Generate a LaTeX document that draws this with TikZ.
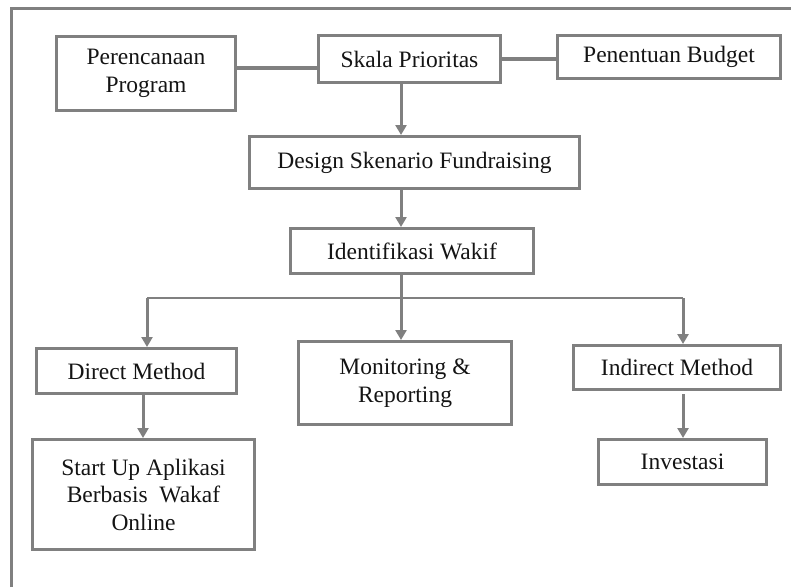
\documentclass[tikz,border=0pt]{standalone}
\usepackage{fontspec}
\setmainfont{Liberation Serif}
\usetikzlibrary{arrows.meta,calc}
\definecolor{lg}{RGB}{128,128,128}
\definecolor{tx}{RGB}{20,20,20}
\begin{document}
\begin{tikzpicture}[x=1pt,y=-1pt,
  box/.style={draw=lg,line width=3pt,rectangle,inner sep=0pt,align=center,text=tx,
    font=\fontsize{23.5}{27.5}\selectfont},
  conn/.style={draw=lg,line width=3pt},
  arr/.style={conn,-{Triangle[width=11pt,length=10pt]}},
  thin/.style={draw=lg,line width=1.5pt}]
\useasboundingbox (0,0) rectangle (791,587);
% outer frame (top and left)
\draw[conn] (11,587) -- (11,8) -- (791,8);
% boxes
\node[box,minimum width=179pt,minimum height=74pt] (perenc) at (146,73.5) {Perencanaan\\Program};
\node[box,minimum width=182pt,minimum height=47pt] (skala) at (409.5,59) {Skala Prioritas};
\node[box,minimum width=223pt,minimum height=43pt] (budget) at (669,57) {Penentuan Budget};
\node[box,minimum width=330pt,minimum height=52pt] (design) at (414.5,162.5) {Design Skenario Fundraising};
\node[box,minimum width=243pt,minimum height=45pt] (ident) at (412,251) {Identifikasi Wakif};
\node[box,minimum width=200pt,minimum height=45pt] (direct) at (136.5,371) {Direct Method};
\node[box,minimum width=213pt,minimum height=83pt] (monit) at (405,383) {Monitoring \&\\Reporting};
\node[box,minimum width=207pt,minimum height=44pt] (indirect) at (677,367.5) {Indirect Method};
\node[box,minimum width=222pt,minimum height=110pt] (startup) at (143.5,494.5) {Start Up Aplikasi\\Berbasis\ \ Wakaf\\Online};
\node[box,minimum width=168pt,minimum height=45pt] (invest) at (682.5,462) {Investasi};
% helper coordinates
\coordinate (spine) at (401,0);
\coordinate (ly) at (0,68);
\coordinate (branch) at (0,298);
\coordinate (lx) at (147,0);
\coordinate (dx) at (143,0);
\coordinate (rx) at (683,0);
% connectors
\draw[conn,line width=4.5pt] (perenc.east |- ly) -- (skala.west |- ly);
\draw[conn,line width=4.5pt] (skala.east) -- (skala.east -| budget.west);
\draw[arr] (skala.south -| spine) -- (design.north -| spine);
\draw[arr] (design.south -| spine) -- (ident.north -| spine);
\draw[arr] (ident.south -| spine) -- (monit.north -| spine);
\draw[thin] (branch -| lx) -- (branch -| rx);
\draw[arr] (branch -| lx) -- (direct.north -| lx);
\draw[arr] (branch -| rx) -- (indirect.north -| rx);
\draw[arr] (direct.south -| dx) -- (startup.north -| dx);
\draw[arr] ($(indirect.south -| rx)+(0,3)$) -- (invest.north -| rx);
\end{tikzpicture}
\end{document}
